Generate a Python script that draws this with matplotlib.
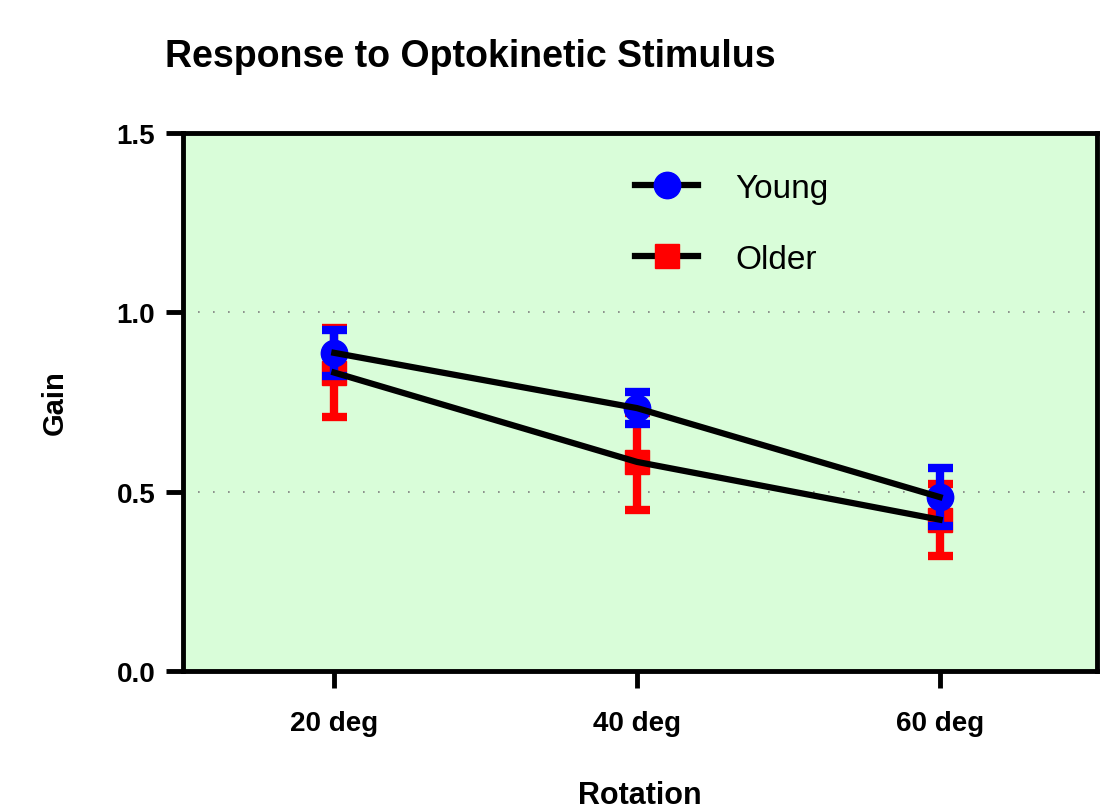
import numpy as np
import matplotlib.pyplot as plt
from matplotlib.lines import Line2D

# data
categories = ["20 deg", "40 deg", "60 deg"]
young = [0.887, 0.733, 0.485]
young_err = [0.065, 0.045, 0.08]
older = [0.832, 0.583, 0.422]
older_err = [0.125, 0.135, 0.10]

plt.rcParams['font.family'] = ['Liberation Sans', 'DejaVu Sans']

fig = plt.figure(figsize=(11.01, 8.12), dpi=100)
ax = fig.add_axes([183/1101, 1 - 672/812, (1097 - 183)/1101, (672 - 134)/812])
ax.set_facecolor("#d9fdd9")

x = np.arange(len(categories))

# error bars + markers (older under young)
ax.errorbar(x, older, yerr=older_err, fmt="s", color="red", ms=17,
            elinewidth=6, capsize=9, capthick=6, zorder=3)
ax.errorbar(x, young, yerr=young_err, fmt="o", color="blue", ms=19,
            elinewidth=6, capsize=9, capthick=6, zorder=4)
# connecting lines on top
ax.plot(x, older, color="black", lw=4.5, zorder=5)
ax.plot(x, young, color="black", lw=4.5, zorder=5)

ax.set_xlim(-0.5, 2.52)
ax.set_ylim(0, 1.5)
ax.set_yticks([0, 0.5, 1.0, 1.5])
ax.set_yticklabels(["0.0", "0.5", "1.0", "1.5"])
ax.set_xticks(x)
ax.set_xticklabels(categories)

for y in [0.5, 1.0]:
    ax.axhline(y, color="gray", lw=1.2, ls=(0, (1, 8)), zorder=1)

for s in ax.spines.values():
    s.set_linewidth(3.5)
ax.tick_params(axis="both", width=3.5, length=12, labelsize=20, pad=8)
for lab in ax.get_xticklabels() + ax.get_yticklabels():
    lab.set_fontweight("bold")
ax.tick_params(axis="x", pad=16)

ax.set_ylabel("Gain", fontsize=21, fontweight="bold", labelpad=34)
ax.set_xlabel("Rotation", fontsize=22, fontweight="bold", labelpad=32)
fig.text(165/1101, 1 - 57/812, "Response to Optokinetic Stimulus",
         fontsize=27, fontweight="bold", va="center", ha="left")

handles = [
    Line2D([], [], color="black", lw=4.5, marker="o", mfc="blue", mec="blue", ms=19),
    Line2D([], [], color="black", lw=4.5, marker="s", mfc="red", mec="red", ms=17),
]
fig.legend(handles, ["Young", "Older"], loc="upper left",
           bbox_to_anchor=(635/1101, 1 - 174/812), frameon=False, fontsize=24,
           handlelength=1.9, handletextpad=1.1, labelspacing=1.2,
           borderpad=0, borderaxespad=0)

plt.savefig("out.png", dpi=100)
